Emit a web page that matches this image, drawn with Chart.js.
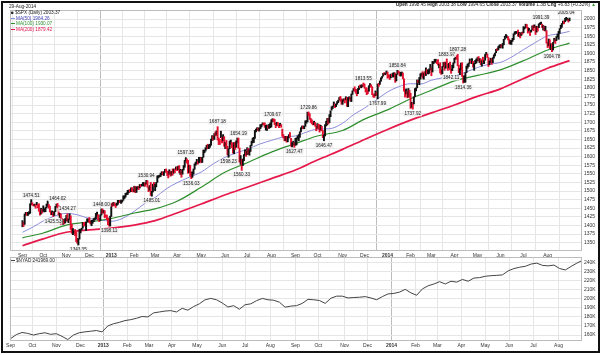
<!DOCTYPE html>
<html><head><meta charset="utf-8">
<script src="https://cdn.jsdelivr.net/npm/chart.js@4"></script>
<style>
html,body{margin:0;padding:0;background:#fff;}
#wrap{position:relative;width:602px;height:355px;overflow:hidden;font-family:"Liberation Sans",Arial,sans-serif;}
#frame{position:absolute;left:1px;top:1px;width:595px;height:348px;border:2px solid #111;}
canvas{position:absolute;left:0;}
.t{position:absolute;white-space:nowrap;font-size:4.7px;line-height:5px;color:#222;}
.ln{display:inline-block;width:4px;height:0;border-top:1px solid;vertical-align:middle;margin-right:1px;}
</style></head>
<body><div id="wrap">
<canvas id="c1" width="602" height="262" style="top:0"></canvas>
<canvas id="c2" width="602" height="100" style="top:250px"></canvas>
<div id="frame"></div>
<div class="t" style="left:9px;top:4px">29-Aug-2014</div>
<div class="t" style="left:11px;top:10px">■ $SPX (Daily) 2003.37</div>
<div class="t" style="left:11px;top:15.5px;color:#3c3cb4"><span class="ln" style="border-color:#8c8cdc"></span>MA(50) 1964.26</div>
<div class="t" style="left:11px;top:21px;color:#2f8f2f"><span class="ln" style="border-color:#2f8f2f"></span>MA(100) 1930.07</div>
<div class="t" style="left:11px;top:26.5px;color:#e0104a"><span class="ln" style="border-color:#e6194b"></span>MA(200) 1879.42</div>
<div class="t" style="right:6px;top:2px"><b>Open</b> 1998.45 <b>High</b> 2003.38 <b>Low</b> 1994.65 <b>Close</b> 2003.37 <b>Volume</b> 1.3B <b>Chg</b> +6.83 (+0.32%) <span style="color:#2a9a2a">▲</span></div>
<div class="t" style="left:11px;top:257.5px"><span class="ln" style="border-color:#444"></span>$NYAD 241969.00</div>
</div>
<script>
// ---- data: trading days Sep 4 2012 .. Aug 29 2014 (index 0..499) ----
const closes = [
1405,1403,1432,1438,1429,1434,1437,1460,1466,1461,1459,1461,1460,1460,1457,1442,1433,1447,1441,
1444,1446,1451,1461,1461,1456,1441,1433,1433,1429,1440,1455,1461,1457,1433,1434,1413,1409,1413,1412,1412,
1428,1414,1417,1428,1395,1378,1380,1380,1375,1355,1353,1360,1387,1388,1391,1409,1406,1399,1410,1416,1416,
1409,1407,1409,1414,1418,1419,1428,1428,1419,1414,1430,1447,1436,1444,1430,1427,1420,1418,1402,1426,
1462,1459,1466,1462,1457,1461,1472,1472,1471,1472,1473,1481,1486,1493,1495,1495,1503,1500,1508,1502,1498,
1513,1496,1511,1512,1509,1518,1517,1519,1520,1521,1520,1531,1512,1502,1516,1488,1497,1516,1515,
1518,1525,1540,1541,1544,1551,1556,1552,1555,1563,1561,1552,1548,1559,1546,1557,1552,1564,1563,1569,
1562,1570,1554,1560,1553,1563,1569,1588,1593,1589,1552,1575,1552,1542,1555,1563,1579,1579,1585,1582,1594,1598,
1583,1598,1614,1618,1626,1633,1627,1634,1634,1650,1659,1650,1667,1666,1669,1655,1651,1650,1660,1648,1654,1631,
1640,1631,1609,1623,1643,1643,1626,1613,1636,1627,1639,1652,1629,1588,1592,1573,1588,1603,1613,1606,
1615,1614,1615,1632,1640,1652,1653,1675,1680,1683,1676,1681,1689,1692,1696,1692,1686,1690,1692,1685,1686,1686,
1707,1710,1707,1697,1691,1697,1691,1689,1694,1685,1661,1656,1646,1652,1643,1657,1664,1657,1630,1635,1638,1633,
1640,1653,1655,1655,1672,1684,1689,1683,1688,1698,1705,1726,1722,1710,1702,1697,1693,1699,1692,1682,
1695,1694,1679,1691,1676,1655,1656,1693,1703,1710,1698,1722,1733,1745,1745,1755,1746,1752,1760,1762,1772,1763,1757,
1762,1768,1763,1770,1747,1771,1772,1768,1782,1791,1798,1792,1788,1781,1796,1805,1802,1803,1807,1806,
1801,1795,1793,1785,1805,1808,1803,1782,1776,1775,1787,1781,1811,1810,1818,1828,1833,1842,1841,1841,1848,
1832,1831,1827,1838,1837,1838,1842,1819,1839,1848,1846,1839,1844,1845,1828,1790,1782,1793,1774,1794,1783,
1742,1755,1752,1773,1797,1800,1820,1819,1830,1839,1841,1829,1840,1836,1848,1845,1845,1854,1859,
1846,1874,1874,1877,1878,1877,1868,1868,1846,1841,1859,1872,1861,1872,1867,1857,1866,1853,1849,1858,1872,
1886,1891,1889,1865,1845,1852,1872,1833,1816,1831,1843,1862,1865,1872,1880,1875,1879,1863,1869,1878,1884,
1884,1881,1885,1868,1878,1876,1878,1897,1897,1889,1871,1878,1885,1873,1888,1892,1901,1912,1910,1920,1924,
1925,1924,1928,1940,1949,1951,1951,1944,1930,1936,1938,1942,1957,1959,1963,1963,1950,1960,1957,1961,1960,
1973,1975,1985,1978,1964,1973,1965,1968,1977,1973,1982,1958,1978,1974,1984,1987,1988,1978,1979,1970,1970,1931,
1925,1939,1920,1920,1910,1932,1937,1934,1947,1955,1955,1972,1982,1987,1992,1988,1998,2000,2000,1997,2003];
const highs = [
1414,1409,1433,1438,1438,1438,1440,1463,1475,1466,1461,1462,1461,1467,1460,1463,1442,1450,1447,
1457,1449,1452,1462,1471,1461,1456,1442,1442,1438,1441,1455,1462,1464,1457,1435,1434,1421,1418,1417,1420,
1429,1434,1419,1434,1428,1403,1391,1385,1388,1381,1362,1362,1389,1389,1392,1409,1409,1409,1410,1419,1419,
1423,1413,1415,1415,1420,1422,1435,1439,1431,1420,1431,1448,1448,1444,1443,1430,1430,1422,1418,1427,
1463,1465,1467,1466,1462,1465,1473,1473,1472,1474,1473,1486,1486,1493,1495,1502,1503,1504,1509,1510,1504,
1514,1513,1512,1513,1514,1519,1519,1520,1525,1524,1524,1531,1530,1512,1516,1525,1499,1520,1525,
1519,1525,1544,1545,1546,1552,1556,1556,1556,1563,1564,1557,1558,1562,1557,1557,1564,1564,1564,1570,
1570,1572,1574,1563,1560,1563,1574,1589,1597,1593,1589,1575,1575,1555,1556,1564,1579,1584,1592,1586,1598,1598,
1597,1598,1619,1619,1626,1633,1636,1634,1636,1651,1661,1660,1667,1672,1675,1687,1654,1650,1674,1656,1664,1658,
1641,1647,1630,1623,1645,1648,1641,1638,1641,1642,1646,1654,1654,1625,1603,1592,1593,1606,1620,1615,
1626,1624,1620,1633,1645,1654,1656,1676,1680,1684,1683,1684,1693,1693,1698,1698,1698,1691,1692,1690,1694,1698,
1707,1710,1710,1708,1697,1700,1699,1691,1697,1693,1680,1664,1659,1659,1659,1658,1664,1670,1653,1641,1645,1641,
1653,1655,1660,1664,1672,1684,1689,1689,1689,1704,1705,1729,1730,1725,1711,1707,1699,1703,1699,1688,
1696,1694,1693,1691,1688,1676,1663,1693,1703,1711,1711,1722,1733,1745,1747,1759,1753,1753,1760,1764,1772,1775,1768,
1765,1768,1768,1774,1772,1771,1774,1772,1782,1791,1798,1803,1796,1795,1798,1805,1808,1808,1809,1814,
1811,1800,1800,1793,1806,1812,1809,1803,1782,1782,1791,1787,1811,1813,1820,1829,1833,1842,1844,1843,1849,
1846,1838,1837,1840,1840,1843,1844,1843,1839,1851,1849,1846,1845,1846,1843,1826,1795,1797,1789,1798,1793,
1784,1758,1756,1774,1798,1800,1823,1822,1830,1841,1843,1847,1843,1847,1858,1853,1852,1855,1868,
1858,1877,1876,1883,1883,1878,1882,1868,1873,1852,1862,1874,1875,1874,1884,1868,1871,1875,1855,1866,1873,
1886,1893,1893,1897,1866,1856,1872,1873,1835,1835,1844,1863,1869,1872,1884,1879,1885,1877,1871,1880,1884,
1888,1891,1885,1884,1879,1889,1879,1897,1903,1898,1888,1878,1886,1885,1888,1896,1901,1912,1914,1920,1924,
1926,1925,1929,1941,1950,1955,1951,1949,1942,1937,1938,1944,1957,1963,1964,1963,1968,1961,1959,1961,1962,
1978,1976,1985,1984,1976,1973,1966,1968,1980,1982,1983,1979,1979,1977,1986,1989,1991,1985,1981,1979,1979,1966,
1932,1942,1940,1928,1928,1932,1944,1940,1949,1956,1964,1972,1982,1987,1994,1994,2002,2005,2002,1999,2003];
const lows = [
1396,1397,1403,1430,1429,1429,1433,1435,1460,1459,1457,1456,1450,1460,1451,1441,1430,1433,1436,
1441,1439,1440,1451,1456,1450,1439,1431,1431,1426,1429,1440,1453,1452,1430,1423,1403,1408,1403,1404,1407,
1413,1412,1408,1417,1388,1377,1373,1377,1370,1353,1348,1343,1360,1378,1387,1392,1399,1398,1385,1410,1411,
1408,1404,1399,1406,1411,1416,1419,1427,1416,1411,1414,1430,1435,1436,1422,1425,1416,1402,1398,1398,
1426,1455,1458,1457,1452,1458,1461,1467,1466,1464,1468,1473,1478,1482,1489,1490,1495,1497,1498,1499,1497,
1498,1495,1496,1505,1504,1509,1513,1515,1515,1514,1514,1520,1511,1498,1502,1487,1485,1497,1514,
1501,1512,1525,1538,1541,1542,1547,1547,1545,1555,1555,1545,1538,1549,1543,1546,1546,1552,1553,1563,
1559,1562,1553,1548,1540,1549,1561,1569,1587,1581,1552,1553,1543,1536,1540,1549,1563,1575,1579,1578,1582,1586,
1582,1583,1598,1611,1616,1622,1623,1623,1627,1633,1647,1648,1650,1660,1662,1648,1635,1635,1655,1640,1646,1630,
1623,1623,1605,1598,1623,1636,1626,1610,1608,1621,1627,1640,1625,1584,1577,1560,1574,1588,1604,1601,
1606,1607,1604,1615,1632,1640,1641,1653,1672,1677,1675,1674,1681,1686,1692,1692,1685,1677,1676,1682,1682,1684,
1686,1701,1702,1693,1684,1691,1689,1684,1690,1685,1659,1654,1646,1646,1642,1643,1654,1656,1630,1628,1633,1627,
1633,1634,1651,1646,1656,1672,1681,1681,1681,1688,1697,1701,1719,1708,1699,1695,1692,1693,1688,1675,
1682,1680,1671,1677,1675,1655,1646,1660,1689,1692,1695,1699,1716,1735,1740,1746,1742,1745,1752,1757,1764,1761,1752,
1752,1761,1756,1765,1746,1745,1767,1761,1760,1781,1791,1790,1784,1777,1783,1795,1800,1800,1803,1805,
1799,1788,1780,1783,1790,1805,1801,1780,1773,1772,1777,1778,1768,1804,1810,1819,1828,1834,1839,1838,1842,
1828,1829,1824,1829,1833,1831,1832,1816,1820,1839,1843,1835,1834,1836,1826,1790,1773,1782,1771,1773,1772,
1740,1743,1738,1753,1774,1791,1800,1815,1809,1825,1834,1828,1825,1835,1836,1841,1840,1842,1852,
1835,1846,1870,1874,1874,1870,1866,1858,1843,1839,1841,1861,1851,1857,1866,1851,1858,1852,1842,1850,1858,
1872,1883,1883,1864,1844,1838,1852,1833,1814,1816,1816,1844,1857,1862,1871,1873,1870,1860,1851,1870,1872,
1878,1878,1873,1867,1863,1874,1870,1880,1896,1888,1862,1867,1873,1868,1873,1886,1893,1902,1908,1910,1916,
1916,1918,1915,1925,1941,1948,1945,1939,1928,1927,1926,1935,1940,1955,1958,1958,1950,1949,1945,1952,1956,
1960,1971,1975,1974,1959,1965,1952,1962,1969,1966,1975,1955,1962,1965,1975,1984,1985,1975,1968,1966,1965,1930,
1917,1922,1914,1911,1905,1910,1933,1929,1937,1947,1941,1958,1972,1976,1986,1986,1992,1997,1996,1991,1995];

const ma50Days = [0,10,19,30,40,50,61,71,81,91,102,112,121,131,141,152,163,174,185,195,205,216,227,238,249,259,269,280,292,302,312,322,333,343,354,363,373,383,394,404,415,425,436,446,457,468,479,489,499];
const ma50 = [1380,1396,1413,1428,1435,1431,1420,1416,1412,1420,1441,1465,1481,1506,1524,1540,1555,1579,1598,1611,1621,1636,1647,1657,1660,1671,1680,1681,1697,1722,1741,1763,1788,1803,1812,1811,1822,1829,1834,1845,1859,1868,1874,1889,1911,1932,1951,1957,1964];
const maDays = [0,19,40,61,81,102,121,141,163,185,205,227,249,269,292,312,333,354,373,394,415,436,457,479,499];
const ma100 = [1364,1378,1401,1410,1420,1436,1448,1470,1511,1555,1582,1613,1638,1660,1676,1709,1736,1768,1793,1820,1836,1852,1879,1910,1930];
const ma200 = [1341,1361,1380,1387,1392,1401,1414,1436,1462,1489,1511,1536,1561,1590,1621,1650,1679,1706,1727,1750,1775,1797,1827,1857,1879];

const nyadDays = [0,5,10,15,20,25,30,35,40,45,50,55,60,65,70,75,80,85,90,95,100,105,110,115,120,125,130,135,140,145,150,155,160,165,170,175,180,185,190,195,200,205,210,215,220,225,230,235,240,245,250,255,260,265,270,275,280,285,290,295,300,305,310,315,320,325,330,335,340,345,350,355,360,365,370,375,380,385,390,395,400,405,410,415,420,425,430,435,440,445,450,455,460,465,470,475,480,485,490,495,499];
const nyad = [156.0,160.5,162.8,161.8,160.0,161.5,162.5,160.8,161.5,158.5,155.0,160.0,162.5,163.5,164.2,165.0,163.5,170.0,172.5,174.0,176.0,177.0,178.5,180.5,180.0,184.5,185.5,186.5,187.0,185.5,189.5,187.5,191.5,194.5,199.0,200.5,199.0,195.5,191.0,192.5,188.5,193.5,194.5,198.0,200.5,199.0,198.5,196.3,190.8,192.0,192.5,195.0,199.5,199.0,198.2,195.0,200.7,203.0,203.0,201.0,201.5,201.8,202.5,201.0,199.0,202.5,205.5,206.0,207.5,210.5,206.6,204.0,211.0,214.5,216.4,219.0,216.5,219.5,218.5,221.5,219.5,223.0,223.5,225.0,225.6,226.0,226.5,231.0,233.5,235.0,236.0,238.5,239.5,237.0,236.5,237.4,233.5,232.0,235.9,239.5,242.0];

const monthIdx = [0,19,40,61,81,102,121,141,163,185,205,227,249,269,292,312,333,354,373,394,415,436,457,479];
const monthLbl = ['Sep','Oct','Nov','Dec','2013','Feb','Mar','Apr','May','Jun','Jul','Aug','Sep','Oct','Nov','Dec','2014','Feb','Mar','Apr','May','Jun','Jul','Aug'];
const priceTicks = [1350,1375,1400,1425,1450,1475,1500,1525,1550,1575,1600,1625,1650,1675,1700,1725,1750,1775,1800,1825,1850,1875,1900,1925,1950,1975,2000];
const adTicks = [160,170,180,190,200,210,220,230,240];

const noteIdx = [8,32,28,41,51,72,79,113,118,149,154,178,188,197,200,228,248,261,275,311,324,342,356,387,391,397,402,473,483,496];
const noteVal = [1474.51,1464.02,1425.53,1434.27,1343.35,1448.00,1398.11,1530.94,1485.01,1597.35,1536.03,1687.18,1598.23,1654.19,1560.33,1709.67,1627.47,1729.86,1646.47,1813.55,1767.99,1850.84,1737.92,1883.97,1842.11,1897.28,1814.36,1991.39,1904.78,2005.04];
const noteUp = [1,1,0,1,0,1,0,1,0,1,0,1,0,1,0,1,0,1,0,1,0,1,0,1,0,1,0,1,0,1];

// ---- drawing ----
const FF = '"Liberation Sans", Arial, sans-serif';
Chart.defaults.font.family = FF;
const RED = '#e3102e', BLACK = '#111';

const plotFrame = {id:'plotFrame', afterDraw(c){
  const a=c.chartArea, x=c.ctx; x.save(); x.strokeStyle='#bcbcbc'; x.lineWidth=1;
  x.strokeRect(Math.round(a.left)+0.5, Math.round(a.top)+0.5, Math.round(a.right-a.left)-1, Math.round(a.bottom-a.top)-1);
  x.restore(); }};

const notes = {id:'notes', afterDatasetsDraw(c){
  const x=c.ctx, xs=c.scales.x, ys=c.scales.y;
  x.save(); x.font='4.6px '+FF; x.textAlign='center'; x.textBaseline='middle';
  noteIdx.forEach((d,i)=>{
    const px=xs.getPixelForValue(d), py=ys.getPixelForValue(noteVal[i]) + (noteUp[i]? -4.6 : 4.6);
    const t=noteVal[i].toFixed(2), w=x.measureText(t).width+2;
    x.fillStyle='rgba(238,238,238,0.92)'; x.fillRect(px-w/2, py-2.6, w, 5.2);
    x.fillStyle='#222'; x.fillText(t, px, py+0.2);
  });
  x.restore(); }};

function xScale(h){
  return {type:'linear', min:-0.5, max:499.5,
    afterBuildTicks: s => { s.ticks = monthIdx.map(v=>({value:v})); },
    afterFit: s => { s.height = h; },
    ticks:{autoSkip:false, maxRotation:0, padding:1.5, color:'#333',
      font: ctx => ({family:FF, size:5, weight: (monthLbl[ctx.index]||'').length===4 ? 'bold':'normal'}),
      callback:(v,i)=>monthLbl[i]},
    grid:{drawTicks:false, lineWidth:1, color: ctx => (ctx.tick && (ctx.tick.value===81||ctx.tick.value===333)) ? '#bdbdbd' : '#e6e6e6'},
    border:{display:false}};
}

new Chart(document.getElementById('c1'), {
  type:'bar',
  data:{datasets:[
    {type:'bar', data: closes.map((c,i)=>({x:i, y:[lows[i], highs[i]]})),
     backgroundColor: closes.map((c,i)=> (i>0 && c<closes[i-1]) ? RED : BLACK),
     barThickness:1.3, borderWidth:0, order:0},
    {type:'line', data: ma50Days.map((d,i)=>({x:d, y:ma50[i]})), borderColor:'#8c8cdc', borderWidth:1, pointRadius:0, cubicInterpolationMode:'monotone', order:3},
    {type:'line', data: maDays.map((d,i)=>({x:d, y:ma100[i]})), borderColor:'#2f8f2f', borderWidth:1.2, pointRadius:0, cubicInterpolationMode:'monotone', order:2},
    {type:'line', data: maDays.map((d,i)=>({x:d, y:ma200[i]})), borderColor:'#e6194b', borderWidth:1.7, pointRadius:0, cubicInterpolationMode:'monotone', order:1}
  ]},
  options:{responsive:false, animation:false, devicePixelRatio:1,
    layout:{padding:{left:10, top:10, right:0, bottom:0}},
    plugins:{legend:{display:false}, tooltip:{enabled:false}},
    scales:{
      x: xScale(11),
      y: {position:'right', min:1325.6, max:2026.2,
        afterBuildTicks: s => { s.ticks = priceTicks.map(v=>({value:v})); },
        afterFit: s => { s.width = 20; },
        ticks:{padding:2, color:'#333', font:{size:5, family:FF}, callback: v => String(v)},
        grid:{drawTicks:false, color:'#e6e6e6'}, border:{display:false}}
    }},
  plugins:[plotFrame, notes]
});

new Chart(document.getElementById('c2'), {
  type:'line',
  data:{datasets:[
    {data: nyadDays.map((d,i)=>({x:d, y:nyad[i]})), borderColor:'#444', borderWidth:1, pointRadius:0, tension:0}
  ]},
  options:{responsive:false, animation:false, devicePixelRatio:1,
    layout:{padding:{left:10, top:7, right:0, bottom:0}},
    plugins:{legend:{display:false}, tooltip:{enabled:false}},
    scales:{
      x: xScale(9),
      y: {position:'right', min:153.4, max:246.3,
        afterBuildTicks: s => { s.ticks = adTicks.map(v=>({value:v})); },
        afterFit: s => { s.width = 20; },
        ticks:{padding:2, color:'#333', font:{size:5, family:FF}, callback: v => v + 'K'},
        grid:{drawTicks:false, color:'#e6e6e6'}, border:{display:false}}
    }},
  plugins:[plotFrame]
});
</script>
</body></html>
